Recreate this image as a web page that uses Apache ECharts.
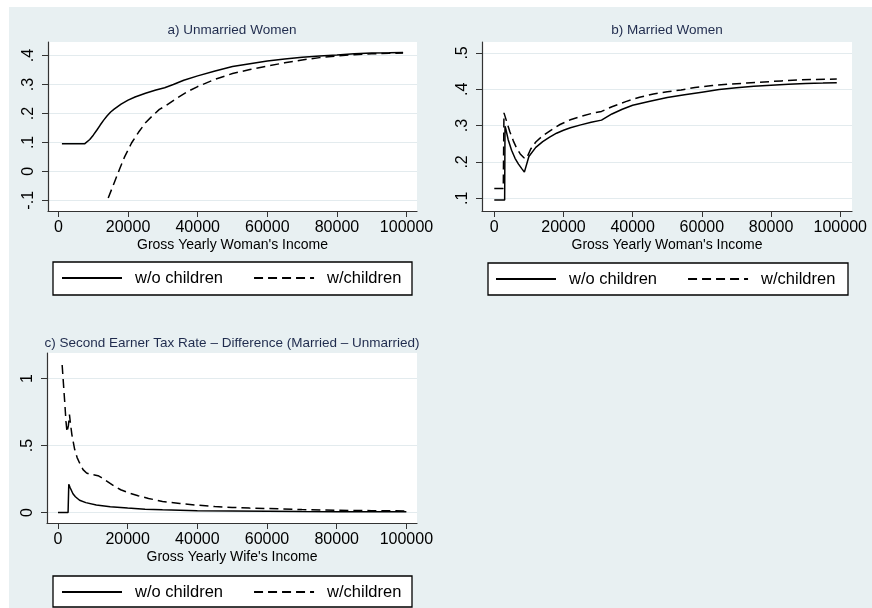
<!DOCTYPE html>
<html>
<head>
<meta charset="utf-8">
<script src="https://cdn.jsdelivr.net/npm/echarts@6/dist/echarts.min.js"></script>
<style>
  html, body { margin: 0; padding: 0; background: #fff; }
  #chart { width: 872px; height: 608px; }
</style>
</head>
<body>
<div id="chart"></div>
<script>
// a) unmarried women
const aSolidX = [1000, 7500, 9000, 10000, 11000, 12000, 13000, 14000, 15000, 16000, 18000, 20000, 22000, 25000, 28000, 30500, 33000, 36000, 40000, 45000, 50000, 55000, 60000, 65000, 70000, 75000, 80000, 85000, 90000, 95000, 99000];
const aSolidY = [0.095, 0.095, 0.11, 0.125, 0.142, 0.16, 0.177, 0.192, 0.205, 0.215, 0.232, 0.246, 0.257, 0.27, 0.281, 0.289, 0.30, 0.315, 0.33, 0.347, 0.362, 0.372, 0.381, 0.388, 0.394, 0.399, 0.402, 0.406, 0.409, 0.41, 0.411];
const aDashX = [14300, 16000, 17600, 19000, 21000, 23000, 25000, 27000, 29000, 31000, 34000, 37000, 40000, 45000, 50000, 55000, 60000, 65000, 70000, 75000, 80000, 85000, 90000, 95000, 99000];
const aDashY = [-0.092, -0.04, 0.009, 0.05, 0.098, 0.135, 0.168, 0.192, 0.214, 0.228, 0.253, 0.275, 0.293, 0.318, 0.338, 0.352, 0.364, 0.375, 0.385, 0.393, 0.399, 0.403, 0.406, 0.408, 0.409];

// b) married women
const bSolidX = [0, 3000, 3100, 3300, 4000, 5000, 6000, 7000, 8000, 8700, 10000, 12000, 14000, 16000, 18000, 20000, 22000, 25000, 28000, 31000, 34000, 37000, 40000, 45000, 50000, 55000, 60000, 65000, 70000, 75000, 80000, 85000, 90000, 95000, 99000];
const bSolidY = [0.095, 0.095, 0.298, 0.292, 0.262, 0.232, 0.21, 0.194, 0.181, 0.172, 0.215, 0.24, 0.256, 0.268, 0.279, 0.287, 0.294, 0.302, 0.309, 0.315, 0.332, 0.345, 0.356, 0.367, 0.377, 0.385, 0.392, 0.399, 0.404, 0.408, 0.411, 0.414, 0.416, 0.417, 0.418];
const bDashX = [0, 2600, 2800, 3300, 4500, 5500, 6500, 7500, 8500, 9300, 10500, 12000, 14000, 16000, 19000, 22000, 25000, 28000, 31000, 34000, 38000, 42000, 46000, 50000, 54000, 58000, 63000, 68000, 73000, 78000, 83000, 88000, 93000, 99000];
const bDashY = [0.127, 0.127, 0.335, 0.33, 0.283, 0.258, 0.237, 0.222, 0.212, 0.209, 0.235, 0.255, 0.272, 0.285, 0.303, 0.316, 0.325, 0.333, 0.339, 0.352, 0.366, 0.378, 0.387, 0.393, 0.398, 0.405, 0.41, 0.414, 0.417, 0.42, 0.423, 0.426, 0.427, 0.428];

// c) difference married - unmarried
const cSolidX = [0, 2900, 3100, 3500, 4300, 5000, 6200, 8000, 11000, 15000, 20000, 25000, 30000, 40000, 50000, 60000, 70000, 80000, 90000, 100000];
const cSolidY = [0, 0, 0.21, 0.185, 0.14, 0.118, 0.092, 0.074, 0.057, 0.044, 0.033, 0.025, 0.02, 0.014, 0.011, 0.009, 0.007, 0.006, 0.006, 0.005];
const cDashX = [1200, 1600, 2000, 2300, 2600, 3000, 3300, 3600, 4000, 4800, 5500, 6200, 7200, 8200, 9200, 10500, 11500, 12500, 14000, 16000, 18000, 20500, 23000, 26000, 30000, 35000, 40000, 45000, 50000, 55000, 60000, 70000, 80000, 90000, 100000];
const cDashY = [1.10, 0.95, 0.8, 0.68, 0.6, 0.65, 0.73, 0.66, 0.58, 0.47, 0.41, 0.37, 0.32, 0.295, 0.285, 0.28, 0.275, 0.26, 0.235, 0.2, 0.17, 0.145, 0.125, 0.105, 0.083, 0.068, 0.055, 0.045, 0.038, 0.033, 0.03, 0.022, 0.017, 0.014, 0.012];

const xTicks = [0, 20000, 40000, 60000, 80000, 100000];
const aYTicks = [-0.1, 0, 0.1, 0.2, 0.3, 0.4];
const bYTicks = [0.1, 0.2, 0.3, 0.4, 0.5];
const cYTicks = [0, 0.5, 1];

const seriesNames = ['w/o children', 'w/children'];
const panelTitles = ['a) Unmarried Women', 'b) Married Women', 'c) Second Earner Tax Rate \u2013 Difference (Married \u2013 Unmarried)'];
const xTitles = ["Gross Yearly Woman's Income", "Gross Yearly Woman's Income", "Gross Yearly Wife's Income"];

const FONT = '"Liberation Sans", Arial, Helvetica, sans-serif';
const BG = '#e8f0f2';
const GRID = '#e3ebee';

const chart = echarts.init(document.getElementById('chart'));

function pairs(xs, ys) {
  return xs.map((x, i) => [x, ys[i]]);
}

function xAxisOf(idx, min, max) {
  return {
    type: 'value', gridIndex: idx, min: min, max: max,
    name: xTitles[idx], nameLocation: 'middle', nameGap: 27,
    nameTextStyle: { fontFamily: FONT, fontSize: 14, color: '#000' },
    axisLine: { show: true, onZero: false, lineStyle: { color: '#333', width: 1.2 } },
    axisTick: { show: true, length: 6, customValues: xTicks, lineStyle: { color: '#333' } },
    axisLabel: { customValues: xTicks, margin: 9, fontFamily: FONT, fontSize: 16, color: '#000', formatter: v => String(v) },
    splitLine: { show: false }
  };
}

function yAxisOf(idx, min, max, ticks) {
  return {
    type: 'value', gridIndex: idx, min: min, max: max,
    axisLine: { show: true, onZero: false, lineStyle: { color: '#333', width: 1.2 } },
    axisTick: { show: true, length: 6, customValues: ticks, lineStyle: { color: '#333' } },
    axisLabel: {
      customValues: ticks, rotate: 90, margin: 11, fontFamily: FONT, fontSize: 16, color: '#000',
      formatter: v => String(v).replace('0.', '.')
    },
    splitLine: { show: true, lineStyle: { color: GRID, width: 1 } }
  };
}

function lineOf(idx, name, data) {
  return {
    type: 'line', name: name, xAxisIndex: idx, yAxisIndex: idx,
    data: data, showSymbol: false, symbol: 'none', animation: false,
    lineStyle: { color: '#000', width: 1.5, type: name === seriesNames[0] ? 'solid' : [9, 5] },
    itemStyle: { color: '#000' }
  };
}

function legendOf(left, top) {
  return {
    left: left, top: top, orient: 'horizontal', z: 10,
    data: seriesNames, itemWidth: 60, itemHeight: 14, itemGap: 30, padding: 0,
    selectedMode: false,
    itemStyle: { opacity: 0 },
    textStyle: { fontFamily: FONT, fontSize: 16.5, color: '#000', padding: [0, 0, 0, 8], lineHeight: 18 }
  };
}

function legendBox(x, y, w, h) {
  return { type: 'rect', z: 1, shape: { x: x, y: y, width: w, height: h }, style: { fill: '#fff', stroke: '#000', lineWidth: 1.3 } };
}

function titleText(x, y, text) {
  return { type: 'text', z: 2, x: x, y: y, style: { text: text, align: 'center', verticalAlign: 'middle', fontFamily: FONT, fontSize: 13.5, fill: '#1f2b4d' } };
}

const option = {
  backgroundColor: BG,
  animation: false,
  grid: [
    { left: 48, top: 42, width: 369, height: 169, show: true, backgroundColor: '#fff', borderWidth: 0 },
    { left: 482, top: 42, width: 370, height: 169, show: true, backgroundColor: '#fff', borderWidth: 0 },
    { left: 47, top: 353, width: 370, height: 170, show: true, backgroundColor: '#fff', borderWidth: 0 }
  ],
  xAxis: [
    xAxisOf(0, -3000, 103000),
    xAxisOf(1, -3550, 103400),
    xAxisOf(2, -3150, 103050)
  ],
  yAxis: [
    yAxisOf(0, -0.137, 0.447, aYTicks),
    yAxisOf(1, 0.065, 0.53, bYTicks),
    yAxisOf(2, -0.078, 1.19, cYTicks)
  ],
  legend: [
    legendOf(61, 269),
    legendOf(495, 270),
    legendOf(61, 583)
  ],
  graphic: [
    { type: 'rect', z: 0, shape: { x: 0, y: 0, width: 9, height: 608 }, style: { fill: '#fff' } },
    { type: 'rect', z: 0, shape: { x: 0, y: 0, width: 872, height: 7 }, style: { fill: '#fff' } },
    legendBox(53, 262, 359, 33),
    legendBox(488, 263, 360, 32),
    legendBox(53, 576, 359, 31),
    titleText(232, 30, panelTitles[0]),
    titleText(667, 30, panelTitles[1]),
    titleText(232, 343, panelTitles[2])
  ],
  series: [
    lineOf(0, seriesNames[0], pairs(aSolidX, aSolidY)),
    lineOf(0, seriesNames[1], pairs(aDashX, aDashY)),
    lineOf(1, seriesNames[0], pairs(bSolidX, bSolidY)),
    lineOf(1, seriesNames[1], pairs(bDashX, bDashY)),
    lineOf(2, seriesNames[0], pairs(cSolidX, cSolidY)),
    lineOf(2, seriesNames[1], pairs(cDashX, cDashY))
  ]
};

chart.setOption(option);
</script>
</body>
</html>
